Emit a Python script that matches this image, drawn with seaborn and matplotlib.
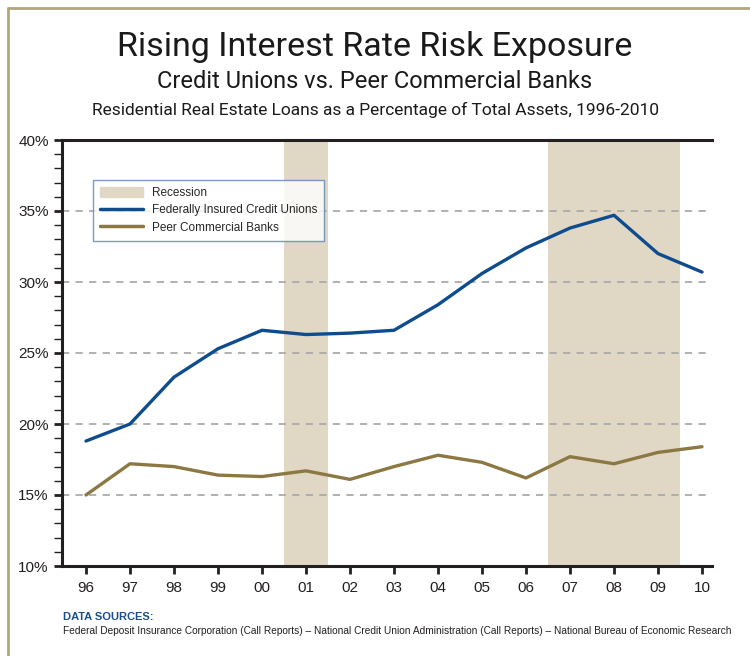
import matplotlib.pyplot as plt
import matplotlib.lines as mlines
import matplotlib.patches as mpatches
import pandas as pd
import seaborn as sns

# Values
years = ["96", "97", "98", "99", "00", "01", "02", "03", "04", "05", "06", "07", "08", "09", "10"]
credit_unions = [18.8, 20.0, 23.3, 25.3, 26.6, 26.3, 26.4, 26.6, 28.4, 30.6, 32.4, 33.8, 34.7, 32.0, 30.7]
banks = [15.0, 17.2, 17.0, 16.4, 16.3, 16.7, 16.1, 17.0, 17.8, 17.3, 16.2, 17.7, 17.2, 18.0, 18.4]
recessions = [("01", "01"), ("07", "09")]
y_ticks = [10, 15, 20, 25, 30, 35, 40]

series_names = ["Federally Insured Credit Unions", "Peer Commercial Banks"]
colors = {"Federally Insured Credit Unions": "#0f4c8d", "Peer Commercial Banks": "#8c7843"}
recession_color = "#e0d8c5"

idx = list(range(len(years)))
df = pd.concat([
    pd.DataFrame({"x": idx, "value": credit_unions, "series": series_names[0]}),
    pd.DataFrame({"x": idx, "value": banks, "series": series_names[1]}),
])

sns.set_style("white")
plt.rcParams["font.family"] = ["Liberation Sans", "DejaVu Sans"]

fig = plt.figure(figsize=(7.5, 6.56), dpi=100)
ax = fig.add_axes([62 / 750, 1 - 566 / 656, 650 / 750, 426 / 656])

# recession bands
for start, end in recessions:
    ax.axvspan(years.index(start) - 0.5, years.index(end) + 0.5, color=recession_color, lw=0, zorder=0)

# dashed gridlines
for t in y_ticks[1:-1]:
    ax.axhline(t, color="#aaaaaa", lw=1.3, ls=(0, (4, 3.5)), zorder=1)

sns.lineplot(data=df, x="x", y="value", hue="series", palette=colors,
             linewidth=2.4, legend=False, ax=ax, zorder=3)

ax.set_xlim(-0.545, 14.227)
ax.set_ylim(10, 40)
ax.set_xticks(idx)
ax.set_xticklabels(years)
ax.set_yticks(y_ticks)
ax.set_yticklabels([f"{t}%" for t in y_ticks])
ax.set_yticks(range(10, 41), minor=True)
ax.set_xlabel("")
ax.set_ylabel("")
ax.tick_params(axis="both", which="major", direction="out", length=6, width=2,
               color="#231f20", labelsize=11, labelcolor="#231f20")
ax.tick_params(axis="y", which="minor", direction="out", length=6, width=1, color="#231f20", left=True)
ax.tick_params(axis="x", pad=5)
ax.tick_params(axis="y", which="both", left=True)
ax.tick_params(axis="x", which="major", bottom=True)

for side in ["left", "bottom", "top"]:
    ax.spines[side].set_visible(True)
    ax.spines[side].set_color("#231f20")
    ax.spines[side].set_linewidth(2.2)
ax.spines["right"].set_visible(False)

# legend
handles = [
    mpatches.Patch(color=recession_color, label="Recession"),
    mlines.Line2D([], [], color=colors[series_names[0]], lw=2.5, label=series_names[0]),
    mlines.Line2D([], [], color=colors[series_names[1]], lw=2.5, label=series_names[1]),
]
leg = ax.legend(handles=handles, loc="upper left", bbox_to_anchor=(31 / 650, 1 - 40 / 426),
                fontsize=8.5, frameon=True, fancybox=False, handlelength=3.6, handleheight=0.9,
                borderpad=0.6, labelspacing=0.45, borderaxespad=0)
leg.get_frame().set_edgecolor("#5b84b8")
leg.get_frame().set_linewidth(1.0)

# titles
title_font = ["Roboto", "DejaVu Sans"]
fig.text(0.5, 1 - 47 / 656, "Rising Interest Rate Risk Exposure", ha="center", va="center",
         fontsize=24.5, color="#1a1a1a", family=title_font)
fig.text(0.5, 1 - 81 / 656, "Credit Unions vs. Peer Commercial Banks", ha="center", va="center",
         fontsize=17, color="#1a1a1a", family=title_font)
fig.text(0.5, 1 - 110 / 656, "Residential Real Estate Loans as a Percentage of Total Assets, 1996-2010",
         ha="center", va="center", fontsize=12.5, color="#1a1a1a", family=title_font)

# sources
fig.text(63 / 750, 1 - 617 / 656, "DATA SOURCES:", ha="left", va="center", fontsize=8,
         fontweight="bold", color="#1a4f8f")
fig.text(63 / 750, 1 - 631 / 656,
         "Federal Deposit Insurance Corporation (Call Reports) \u2013 National Credit Union Administration "
         "(Call Reports) \u2013 National Bureau of Economic Research",
         ha="left", va="center", fontsize=7.3, color="#231f20")

# frame border
border = "#b3a57c"
fig.add_artist(mlines.Line2D([8 / 750, 8 / 750], [0, 1 - 8 / 656], color=border, lw=2,
                             transform=fig.transFigure))
fig.add_artist(mlines.Line2D([8 / 750, 1], [1 - 8 / 656, 1 - 8 / 656], color=border, lw=2,
                             transform=fig.transFigure))

fig.savefig("out.png", dpi=100, facecolor="white")
